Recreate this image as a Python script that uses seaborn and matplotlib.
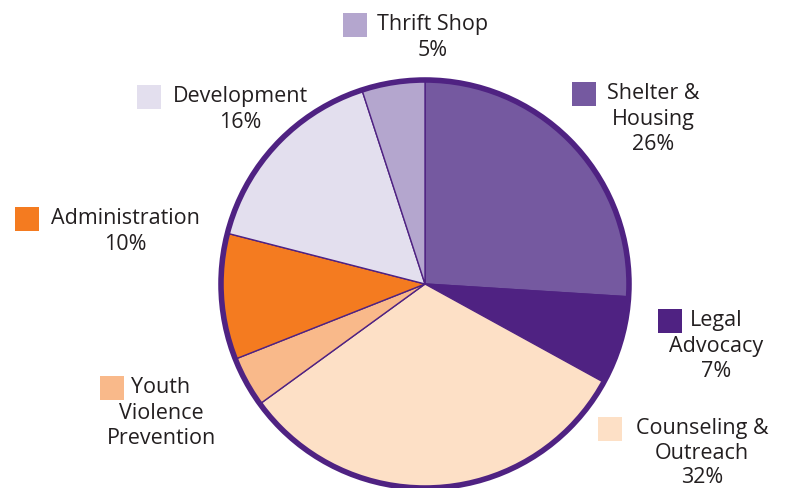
import matplotlib
matplotlib.use('Agg')
import matplotlib.pyplot as plt
from matplotlib.patches import Rectangle, Circle
import seaborn as sns

# budget share by program area
categories = ['Shelter & Housing', 'Legal Advocacy', 'Counseling & Outreach',
              'Youth Violence Prevention', 'Administration', 'Development', 'Thrift Shop']
shares = [26, 7, 32, 4, 10, 16, 5]
label_text = ['Shelter &\nHousing\n26%', 'Legal\nAdvocacy\n7%', 'Counseling &\nOutreach\n32%',
              'Youth\nViolence\nPrevention', 'Administration\n10%', 'Development\n16%',
              'Thrift Shop\n5%']

sns.set_theme(style='white')
plt.rcParams['font.family'] = ['Open Sans', 'DejaVu Sans']
colors = sns.color_palette(['#7559a0', '#4f2282', '#fde0c6', '#f9b98a',
                            '#f47b20', '#e3dfee', '#b4a6ce'])
edge = '#4f2282'
txt = '#231f20'

fig = plt.figure(figsize=(7.91, 4.89), dpi=100)
ax = fig.add_axes([0, 0, 1, 1])

cx, cy, r = 425, 489 - 285, 204
ax.pie(shares, colors=colors, startangle=90, counterclock=False,
       center=(cx, cy), radius=r, frame=True,
       wedgeprops=dict(linewidth=1, edgecolor=edge))
ax.add_patch(Circle((cx, cy), r, fill=False, linewidth=4, edgecolor=edge))
ax.set_xlim(0, 791)
ax.set_ylim(0, 489)
ax.set_aspect('equal')
ax.axis('off')

# label layout: text centre x, first-line centre y (pixels from top), square left x, line pitch
layout = [
    (653, 94, 572, 25.5),
    (716, 321, 658, 25.5),
    (702, 429, 598, 24.2),
    (161, 388, 100, 25.5),
    (125, 219, 15, 25.5),
    (240, 97, 137, 25.5),
    (433, 25, 343, 25.5),
]
sq = 24
for (tx, ty, sx, pitch), lab, col in zip(layout, label_text, colors):
    for i, line in enumerate(lab.split('\n')):
        ax.text(tx, 489 - (ty + i * pitch), line, ha='center', va='center',
                fontsize=15.5, color=txt)
    ax.add_patch(Rectangle((sx, 489 - ty - sq / 2 - 1), sq, sq, color=col,
                           linewidth=0))

fig.savefig('out.png', dpi=100)
